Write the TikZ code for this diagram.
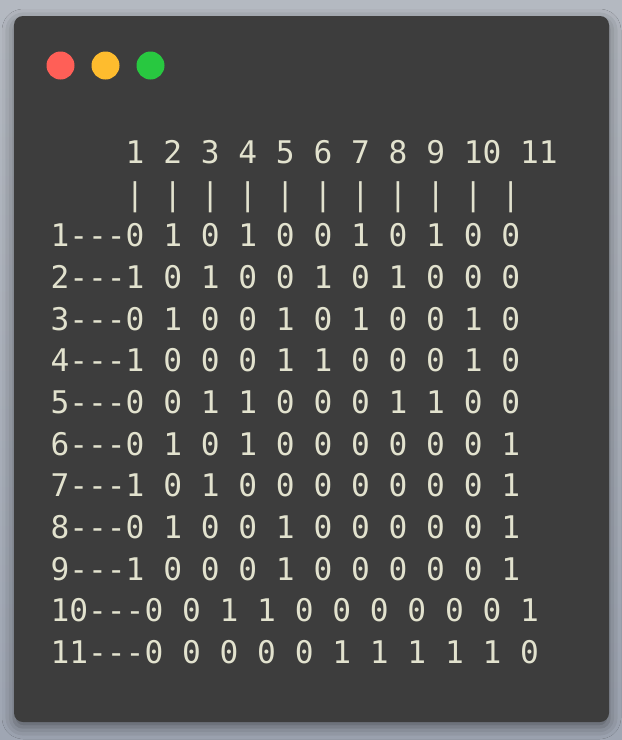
\documentclass[tikz,border=0pt]{standalone}
\usepackage{fontspec}
\newfontfamily\termfont{DejaVu Sans Mono}
\usetikzlibrary{shadows.blur}
\definecolor{bgA}{HTML}{B4B9C1}
\definecolor{bgB}{HTML}{9FA6B3}
\definecolor{win}{HTML}{3D3D3D}
\definecolor{txt}{HTML}{E2E2CE}
\definecolor{dred}{HTML}{FF5F57}
\definecolor{dyel}{HTML}{FEBC2E}
\definecolor{dgrn}{HTML}{28C840}
\tikzset{
  line/.style={anchor=base west, inner sep=0pt, outer sep=0pt, text=txt,
    font=\termfont\fontsize{31.2}{40}\selectfont},
  dot/.style={circle, minimum size=28pt, inner sep=0pt},
}
\begin{document}
\begin{tikzpicture}[x=1pt,y=-1pt]
\useasboundingbox (0,0) rectangle (622,740);
\shade[top color=bgA, bottom color=bgB] (0,0) rectangle (622,740);
\fill[win, rounded corners=9pt, blur shadow={shadow xshift=0pt, shadow yshift=-5pt, shadow blur radius=12pt, shadow opacity=45}] (14,16) rectangle (609,722);
\node[dot, fill=dred] (r) at (60.5,65.5) {};
\node[dot, fill=dyel] (y) at (105.5,65.5) {};
\node[dot, fill=dgrn] (g) at (150.5,65.5) {};
\node[line] (h) at (50.6,163.3) {\ \ \ \ 1 2 3 4 5 6 7 8 9 10 11};
\node[line] (p) at (50.6,205.0) {\ \ \ \ | | | | | | | | | | |};
\node[line] (l1) at (50.6,246.6) {1---0 1 0 1 0 0 1 0 1 0 0};
\node[line] (l2) at (50.6,288.3) {2---1 0 1 0 0 1 0 1 0 0 0};
\node[line] (l3) at (50.6,330.0) {3---0 1 0 0 1 0 1 0 0 1 0};
\node[line] (l4) at (50.6,371.6) {4---1 0 0 0 1 1 0 0 0 1 0};
\node[line] (l5) at (50.6,413.3) {5---0 0 1 1 0 0 0 1 1 0 0};
\node[line] (l6) at (50.6,455.0) {6---0 1 0 1 0 0 0 0 0 0 1};
\node[line] (l7) at (50.6,496.6) {7---1 0 1 0 0 0 0 0 0 0 1};
\node[line] (l8) at (50.6,538.3) {8---0 1 0 0 1 0 0 0 0 0 1};
\node[line] (l9) at (50.6,580.0) {9---1 0 0 0 1 0 0 0 0 0 1};
\node[line] (l10) at (50.6,621.6) {10---0 0 1 1 0 0 0 0 0 0 1};
\node[line] (l11) at (50.6,663.3) {11---0 0 0 0 0 1 1 1 1 1 0};
\end{tikzpicture}
\end{document}
